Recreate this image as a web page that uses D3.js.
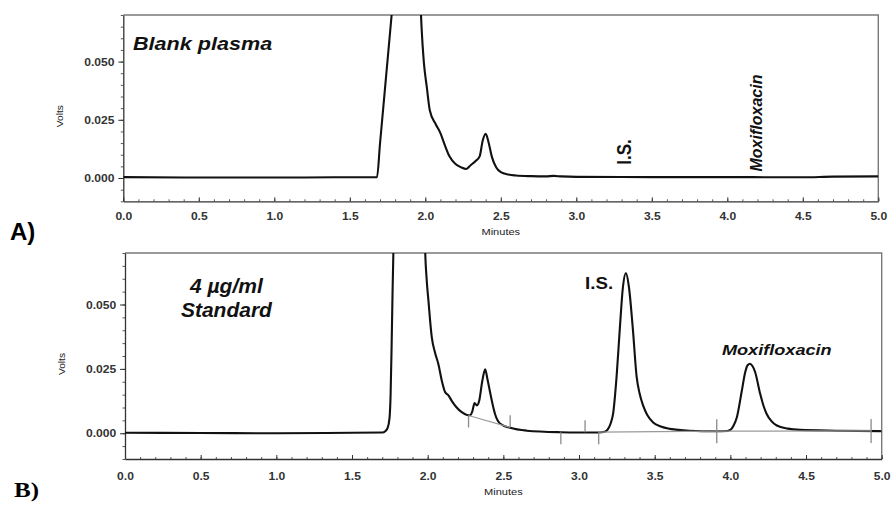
<!DOCTYPE html>
<html>
<head>
<meta charset="utf-8">
<script src="https://cdn.jsdelivr.net/npm/d3@7"></script>
<style>
  body { margin: 0; background: #fff; }
  svg { display: block; font-family: "Liberation Sans", Arial, sans-serif; }
</style>
</head>
<body>
<svg id="chart" width="891" height="505"></svg>
<script>
// blank plasma trace (A)
var blankTime  = [0, 0.5, 1.0, 1.4, 1.6, 1.68, 1.70, 1.74, 1.777, 1.80, 1.88, 1.965, 1.975, 1.99, 2.01, 2.03, 2.07, 2.10, 2.13, 2.16, 2.20, 2.24, 2.27, 2.30, 2.33, 2.36, 2.38, 2.40, 2.42, 2.44, 2.47, 2.50, 2.55, 2.60, 2.70, 2.80, 2.85, 2.90, 3.0, 3.5, 4.0, 4.5, 4.7, 5.0];
var blankVolts = [0.0004, 0.0002, 0.0002, 0.0003, 0.0003, 0.0003, 0.0147, 0.0434, 0.07, 0.0865, 0.15, 0.08, 0.065, 0.05, 0.039, 0.029, 0.023, 0.0193, 0.014, 0.0093, 0.006, 0.0045, 0.0039, 0.0055, 0.0071, 0.0093, 0.016, 0.019, 0.015, 0.0093, 0.0045, 0.0025, 0.0015, 0.0011, 0.0008, 0.0007, 0.0009, 0.0007, 0.0005, 0.0004, 0.0004, 0.0003, 0.0006, 0.0007];

// 4 ug/ml standard trace (B)
var stdTime  = [0, 0.5, 1.0, 1.5, 1.70, 1.72, 1.735, 1.748, 1.755, 1.762, 1.768, 1.775, 1.79, 1.88, 1.975, 1.983, 1.993, 2.005, 2.027, 2.05, 2.07, 2.095, 2.115, 2.137, 2.16, 2.19, 2.225, 2.26, 2.28, 2.295, 2.31, 2.325, 2.34, 2.36, 2.38, 2.395, 2.41, 2.43, 2.445, 2.48, 2.545, 2.655, 2.875, 3.0, 3.13, 3.17, 3.19, 3.21, 3.225, 3.248, 3.27, 3.29, 3.31, 3.33, 3.355, 3.381, 3.40, 3.425, 3.45, 3.49, 3.54, 3.60, 3.73, 3.9, 3.98, 4.0, 4.02, 4.043, 4.076, 4.098, 4.115, 4.13, 4.145, 4.164, 4.197, 4.22, 4.24, 4.27, 4.307, 4.38, 4.46, 4.7, 5.0];
var stdVolts = [0.0002, 0.0001, 0.0, 0.0002, 0.0003, 0.0008, 0.002, 0.006, 0.015, 0.035, 0.055, 0.075, 0.1, 0.15, 0.1, 0.072, 0.06, 0.0515, 0.0373, 0.031, 0.027, 0.020, 0.016, 0.0147, 0.0125, 0.0101, 0.0082, 0.0071, 0.0070, 0.0085, 0.0117, 0.0108, 0.0125, 0.020, 0.0248, 0.021, 0.0166, 0.011, 0.0075, 0.0037, 0.0021, 0.001, 0.0004, 0.0003, 0.0003, 0.0006, 0.0015, 0.004, 0.0075, 0.0218, 0.041, 0.0567, 0.0622, 0.0567, 0.041, 0.0218, 0.0155, 0.0105, 0.0072, 0.0042, 0.0026, 0.0017, 0.001, 0.0008, 0.0009, 0.0013, 0.0028, 0.0062, 0.0166, 0.0237, 0.0265, 0.027, 0.0262, 0.0237, 0.0153, 0.0105, 0.0075, 0.0048, 0.003, 0.0018, 0.0013, 0.001, 0.0008];

// integration baselines drawn by the data system (B)
var baseSegments = [
  [[2.27, 0.0069], [2.545, 0.0023]],
  [[3.13, 0.0004], [3.91, 0.0008]],
  [[3.91, 0.0008], [4.93, 0.0009]]
];
var markerTime  = [2.27, 2.545, 2.88, 3.04, 3.13, 3.91, 4.93];
var markerVolts = [0.0069, 0.0023, 0.0004, 0.0004, 0.0004, 0.0008, 0.0009];
var markerSide  = [-1, 1, -1, 1, -1, 0, 0];   // 1 up, -1 down, 0 both

var xTicks = [0, 0.5, 1.0, 1.5, 2.0, 2.5, 3.0, 3.5, 4.0, 4.5, 5.0];
var yTicks = [0, 0.025, 0.05];

var svg = d3.select("#chart");
var font = '"Liberation Sans", Arial, sans-serif';

function addText(g, x, y, str, o) {
    var t = g.append("text")
      .attr("transform", "translate(" + x + "," + y + ") rotate(" + (o.rotate || 0) + ") scale(" + (o.sx || 1) + "," + (o.sy || 1) + ")")
      .attr("text-anchor", o.anchor || "start")
      .style("font-family", o.family || font)
      .style("font-size", o.size + "px")
      .style("font-weight", o.weight || "normal")
      .style("font-style", o.style || "normal")
      .attr("fill", o.fill || "#111")
      .text(str);
    return t;
}

function drawPanel(box, time, volts, id) {
    var x = d3.scaleLinear().domain([0, 5]).range([box.left, box.right]);
    var y = d3.scaleLinear().domain([-0.01, 0.07]).range([box.bottom, box.top]);
    var g = svg.append("g");

    g.append("clipPath").attr("id", "clip" + id)
      .append("rect")
        .attr("x", box.left).attr("y", box.top)
        .attr("width", box.right - box.left).attr("height", box.bottom - box.top);

    // frame top/right
    g.append("path")
      .attr("d", "M" + box.left + "," + box.top + "H" + box.right + "V" + box.bottom)
      .attr("fill", "none").attr("stroke", "#7a7a7a").attr("stroke-width", 1.4);

    // minor ticks
    g.append("g")
      .attr("transform", "translate(0," + box.bottom + ")")
      .call(d3.axisBottom(x).tickValues(d3.range(0, 5.001, 0.1)).tickSize(-2).tickFormat(""))
      .call(function(s) { s.select(".domain").remove(); s.selectAll("line").attr("stroke", "#555"); });
    g.append("g")
      .attr("transform", "translate(" + box.left + ",0)")
      .call(d3.axisLeft(y).tickValues(d3.range(-0.01, 0.0701, 0.005)).tickSize(2.5).tickFormat(""))
      .call(function(s) { s.select(".domain").remove(); s.selectAll("line").attr("stroke", "#555"); });

    var xa = g.append("g")
      .attr("transform", "translate(0," + box.bottom + ")")
      .call(d3.axisBottom(x).tickValues(xTicks).tickSizeInner(-4).tickSizeOuter(0).tickPadding(box.xPad).tickFormat(d3.format(".1f")));
    xa.selectAll("text")
      .attr("transform", "scale(1.1,1)")
      .style("font-family", font).style("font-size", "11px").style("font-weight", "bold").attr("fill", "#333");

    var ya = g.append("g")
      .attr("transform", "translate(" + box.left + ",0)")
      .call(d3.axisLeft(y).tickValues(yTicks).tickSizeInner(5).tickSizeOuter(0).tickPadding(3).tickFormat(d3.format(".3f")));
    ya.selectAll("text")
      .attr("transform", "scale(1.1,1)")
      .style("font-family", font).style("font-size", "11px").style("font-weight", "bold").attr("fill", "#333");

    [xa, ya].forEach(function(a) {
        a.select(".domain").attr("stroke", "#333").attr("stroke-width", 1.3);
        a.selectAll(".tick line").attr("stroke", "#333");
    });

    addText(g, (box.left + box.right) / 2, box.bottom + box.minutesDy, "Minutes", {size: 8.5, sx: 1.3, anchor: "middle", fill: "#222"});
    addText(g, box.left - 60, (box.top + box.bottom) / 2 + 8, "Volts", {size: 8.5, rotate: -90, sx: 1.2, anchor: "middle", fill: "#222"});

    var line = d3.line()
      .x(function(d) { return x(d[0]); })
      .y(function(d) { return y(d[1]); })
      .curve(d3.curveMonotoneX);

    g.append("path")
      .datum(d3.zip(time, volts))
      .attr("clip-path", "url(#clip" + id + ")")
      .attr("fill", "none")
      .attr("stroke", "#111")
      .attr("stroke-width", 2.1)
      .attr("stroke-linejoin", "round")
      .attr("d", line);

    return {g: g, x: x, y: y};
}

var A = drawPanel({left: 123.3, right: 878.3, top: 15, bottom: 201.3, xPad: 11, minutesDy: 34}, blankTime, blankVolts, "A");
var B = drawPanel({left: 125, right: 881.7, top: 253, bottom: 459, xPad: 13, minutesDy: 36}, stdTime, stdVolts, "B");

// baseline segments and markers on B
B.g.selectAll(".baseseg")
  .data(baseSegments)
  .enter()
  .append("line")
    .attr("class", "baseseg")
    .attr("x1", function(d) { return B.x(d[0][0]); })
    .attr("y1", function(d) { return B.y(d[0][1]); })
    .attr("x2", function(d) { return B.x(d[1][0]); })
    .attr("y2", function(d) { return B.y(d[1][1]); })
    .attr("stroke", "#9a9a9a").attr("stroke-width", 1.2);

B.g.selectAll(".marker")
  .data(d3.range(markerTime.length))
  .enter()
  .append("line")
    .attr("class", "marker")
    .attr("x1", function(i) { return B.x(markerTime[i]); })
    .attr("x2", function(i) { return B.x(markerTime[i]); })
    .attr("y1", function(i) { var y0 = B.y(markerVolts[i]); return markerSide[i] == -1 ? y0 : y0 - 12; })
    .attr("y2", function(i) { var y0 = B.y(markerVolts[i]); return markerSide[i] == 1 ? y0 : y0 + 12; })
    .attr("stroke", "#8a8a8a").attr("stroke-width", 1.3);

// annotations
addText(A.g, A.x(0.064), A.y(0.055), "Blank plasma", {size: 18, sx: 1.2, weight: "bold", style: "italic"});
addText(A.g, A.x(3.36), A.y(0.0057), "I.S.", {size: 17, rotate: -90, sy: 1.2, weight: "bold"});
addText(A.g, A.x(4.227), A.y(0.0028), "Moxifloxacin", {size: 16, rotate: -90, weight: "bold", style: "italic"});

addText(B.g, B.x(0.67), B.y(0.0545), "4 \u00b5g/ml", {size: 21, weight: "bold", style: "italic", anchor: "middle"});
addText(B.g, B.x(0.67), B.y(0.0451), "Standard", {size: 21, weight: "bold", style: "italic", anchor: "middle"});
addText(B.g, B.x(3.04), B.y(0.0561), "I.S.", {size: 16, sx: 1.17, weight: "bold"});
addText(B.g, B.x(3.944), B.y(0.0302), "Moxifloxacin", {size: 15, sx: 1.21, weight: "bold", style: "italic"});

// panel letters
addText(svg, 10, 240, "A)", {size: 24, weight: "bold", fill: "#000"});
addText(svg, 14, 497, "B)", {size: 20, sx: 1.25, weight: "bold", fill: "#000", family: '"Liberation Serif", "Times New Roman", serif'});
</script>
</body>
</html>
